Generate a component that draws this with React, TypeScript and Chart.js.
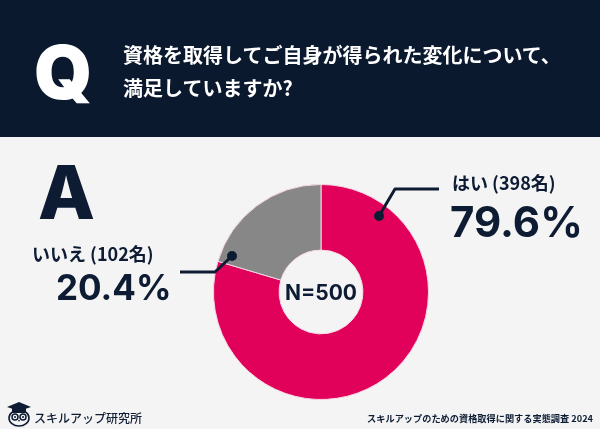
import React, { useEffect, useRef } from "react";
import { Chart, registerables } from "chart.js";

Chart.register(...registerables);

const categories = ["はい", "いいえ"];
const counts = [398, 102];
const percentLabels = ["79.6%", "20.4%"];
const totalLabel = "N=500";
const questionLines = ["資格を取得してご自身が得られた変化について、", "満足していますか?"];
const footerRight = "スキルアップのための資格取得に関する実態調査 2024";
const footerLeft = "スキルアップ研究所";

const PINK = "#e1005a";
const GRAY = "#878787";
const NAVY = "#0d1b33";
const HEADER = "#0b192f";
const BG = "#f4f4f4";

const JP = '"Noto Sans CJK JP", "Noto Sans", sans-serif';
const LAT = 'Inter, "Noto Sans", sans-serif';

const leaderPlugin = {
  id: "leaders",
  afterDatasetsDraw(chart: any) {
    const ctx = chart.ctx;
    ctx.save();
    ctx.strokeStyle = NAVY;
    ctx.fillStyle = NAVY;
    ctx.lineWidth = 3;
    ctx.lineJoin = "round";
    ctx.beginPath();
    ctx.moveTo(379, 216);
    ctx.lineTo(395, 189);
    ctx.lineTo(439, 189);
    ctx.stroke();
    ctx.beginPath();
    ctx.arc(379, 216, 5, 0, Math.PI * 2);
    ctx.fill();
    ctx.beginPath();
    ctx.moveTo(232, 256);
    ctx.lineTo(215, 272);
    ctx.lineTo(180, 272);
    ctx.stroke();
    ctx.beginPath();
    ctx.arc(232, 256, 5, 0, Math.PI * 2);
    ctx.fill();
    ctx.restore();
  },
};

function Logo() {
  return (
    <svg width="26" height="26" viewBox="0 0 26 26" style={{ position: "absolute", left: 6, top: 401 }}>
      <polygon points="13,1 25,6 13,10 1,6" fill={NAVY} />
      <rect x="6" y="7" width="14" height="5" fill={NAVY} />
      <ellipse cx="13" cy="17" rx="10" ry="8" fill="none" stroke={NAVY} strokeWidth="1.6" />
      <circle cx="9" cy="16" r="3" fill="none" stroke={NAVY} strokeWidth="1.5" />
      <circle cx="17" cy="16" r="3" fill="none" stroke={NAVY} strokeWidth="1.5" />
      <circle cx="9" cy="16" r="1" fill={NAVY} />
      <circle cx="17" cy="16" r="1" fill={NAVY} />
      <polygon points="12,19 14,19 13,21" fill={NAVY} />
    </svg>
  );
}

export default function App() {
  const ref = useRef<HTMLCanvasElement>(null);
  useEffect(() => {
    if (!ref.current) return;
    const chart = new Chart(ref.current, {
      type: "doughnut",
      data: {
        labels: categories,
        datasets: [
          {
            data: counts,
            backgroundColor: [PINK, GRAY],
            borderColor: "#f6d6e2",
            borderWidth: 1,
          },
        ],
      },
      options: {
        responsive: false,
        animation: false,
        cutout: "39%",
        layout: { padding: { left: 213, right: 171, top: 184, bottom: 29 } },
        plugins: { legend: { display: false }, tooltip: { enabled: false } },
      },
      plugins: [leaderPlugin],
    });
    return () => chart.destroy();
  }, []);

  const abs = (o: any) => ({ position: "absolute" as const, whiteSpace: "nowrap" as const, ...o });

  return (
    <div style={{ position: "fixed", left: 0, top: 0, width: 600, height: 429, background: BG, overflow: "hidden" }}>
      <div style={abs({ left: 0, top: 0, width: 600, height: 137, background: HEADER })} />
      <canvas ref={ref} width={600} height={429} style={{ position: "absolute", left: 0, top: 0 }} />
      <div style={abs({ left: 34, top: 30, fontFamily: LAT, fontWeight: 900, fontSize: 74, lineHeight: "84px", color: "#fff" })}>Q</div>
      <div style={abs({ left: 123, top: 43, fontFamily: JP, fontWeight: 700, fontSize: 20, lineHeight: "24px", color: "#fff" })}>{questionLines[0]}</div>
      <div style={abs({ left: 123, top: 76, fontFamily: JP, fontWeight: 700, fontSize: 20, lineHeight: "24px", color: "#fff" })}>{questionLines[1]}</div>
      <div style={abs({ left: 38, top: 151, fontFamily: LAT, fontWeight: 800, fontSize: 74, lineHeight: "82px", color: NAVY })}>A</div>
      <div style={abs({ left: 32, top: 241, fontFamily: JP, fontWeight: 700, fontSize: 18, lineHeight: "24px", color: NAVY })}>
        {categories[1]} ({counts[1]}名)
      </div>
      <div style={abs({ left: 56, top: 267, fontFamily: LAT, fontWeight: 700, fontSize: 35, lineHeight: "40px", color: NAVY })}>{percentLabels[1]}</div>
      <div style={abs({ left: 452, top: 170, fontFamily: JP, fontWeight: 700, fontSize: 18, lineHeight: "24px", color: NAVY })}>
        {categories[0]} ({counts[0]}名)
      </div>
      <div style={abs({ left: 450, top: 198, fontFamily: LAT, fontWeight: 700, fontSize: 42, lineHeight: "48px", color: NAVY })}>{percentLabels[0]}</div>
      <div style={abs({ left: 271, width: 100, textAlign: "center", top: 280, fontFamily: LAT, fontWeight: 700, fontSize: 21, lineHeight: "26px", color: NAVY })}>{totalLabel}</div>
      <Logo />
      <div style={abs({ left: 34, top: 408, fontFamily: JP, fontWeight: 500, fontSize: 12, letterSpacing: 0, lineHeight: "20px", color: NAVY })}>{footerLeft}</div>
      <div style={abs({ right: 7, top: 410, fontFamily: JP, fontWeight: 700, fontSize: 9.2, lineHeight: "16px", color: NAVY })}>{footerRight}</div>
    </div>
  );
}
